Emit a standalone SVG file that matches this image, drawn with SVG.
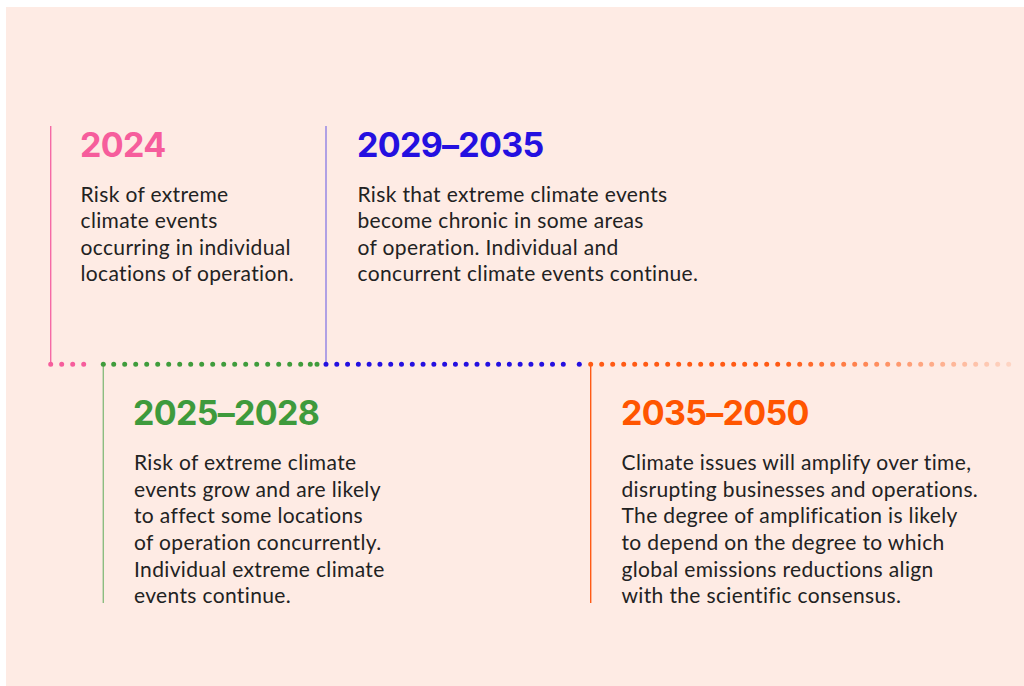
<svg xmlns="http://www.w3.org/2000/svg" width="1024" height="686" viewBox="0 0 1024 686">
  <style>
    .year { font-family: Inter, "Liberation Sans", sans-serif; font-weight: 700; font-size: 34px; letter-spacing: -0.7px; }
    .body { font-family: Lato, "Liberation Sans", sans-serif; font-weight: 400; font-size: 21px; letter-spacing: 0.35px; fill: #222222; }
    .stem { stroke-width: 1.4; fill: none; }
    .dots { stroke-width: 5; stroke-linecap: round; fill: none; }
  </style>
  <defs>
    <linearGradient id="fadeOut" gradientUnits="userSpaceOnUse" x1="780" y1="0" x2="1030" y2="0">
      <stop offset="0" stop-color="#ff5a14" stop-opacity="1"/>
      <stop offset="1" stop-color="#ff5a14" stop-opacity="0.08"/>
    </linearGradient>
  </defs>

  <!-- page background -->
  <rect x="6" y="7" width="1018" height="679" fill="#feebe4"/>

  <!-- dotted timeline and stems -->
  <g id="connectors">
    <line class="stem" x1="50.7" y1="126" x2="50.7" y2="364" stroke="#f56aa5"/>
    <line class="stem" x1="326" y1="126" x2="326" y2="364" stroke="#8f80e4"/>
    <line class="stem" x1="103.3" y1="364" x2="103.3" y2="603" stroke="#8cbd80"/>
    <line class="stem" x1="590.7" y1="364" x2="590.7" y2="603" stroke="#ff5a14"/>

    <line class="dots" x1="50.7" y1="364.3" x2="94.7" y2="364.3" stroke="#f65d9c" stroke-dasharray="0 11"/>

    <g stroke="#409c3c">
      <line class="dots" x1="103.3" y1="364.3" x2="103.3" y2="364.3" stroke-dasharray="0 11"/>
      <line class="dots" x1="113.7" y1="364.3" x2="300.7" y2="364.3" stroke-dasharray="0 11"/>
      <line class="dots" x1="310.3" y1="364.3" x2="317" y2="364.3" stroke-dasharray="0 6.7"/>
    </g>

    <g stroke="#2410e0">
      <line class="dots" x1="326" y1="364.3" x2="563.3" y2="364.3" stroke-dasharray="0 10.786"/>
      <line class="dots" x1="579.3" y1="364.3" x2="579.3" y2="364.3" stroke-dasharray="0 11"/>
    </g>

    <line class="dots" x1="590.7" y1="364.3" x2="1019.7" y2="364.3" stroke="url(#fadeOut)" stroke-dasharray="0 11"/>
  </g>

  <!-- 2024 -->
  <g id="node-2024">
    <text class="year" x="80" y="157" fill="#f65d9c">2024</text>
    <text class="body">
      <tspan x="80.5" y="201.5">Risk of extreme</tspan>
      <tspan x="80.5" y="228">climate events</tspan>
      <tspan x="80.5" y="254.7">occurring in individual</tspan>
      <tspan x="80.5" y="281.3">locations of operation.</tspan>
    </text>
  </g>

  <!-- 2029–2035 -->
  <g id="node-2029-2035">
    <text class="year" x="357" y="157" fill="#2410e0">2029–2035</text>
    <text class="body">
      <tspan x="357.5" y="201.5">Risk that extreme climate events</tspan>
      <tspan x="357.5" y="228">become chronic in some areas</tspan>
      <tspan x="357.5" y="254.7">of operation. Individual and</tspan>
      <tspan x="357.5" y="281.3">concurrent climate events continue.</tspan>
    </text>
  </g>

  <!-- 2025–2028 -->
  <g id="node-2025-2028">
    <text class="year" x="133" y="425" fill="#3e9a3c">2025–2028</text>
    <text class="body">
      <tspan x="134" y="470">Risk of extreme climate</tspan>
      <tspan x="134" y="496.7">events grow and are likely</tspan>
      <tspan x="134" y="523.3">to affect some locations</tspan>
      <tspan x="134" y="550">of operation concurrently.</tspan>
      <tspan x="134" y="576.7">Individual extreme climate</tspan>
      <tspan x="134" y="603.3">events continue.</tspan>
    </text>
  </g>

  <!-- 2035–2050 -->
  <g id="node-2035-2050">
    <text class="year" x="621" y="425" fill="#ff5500">2035–2050</text>
    <text class="body">
      <tspan x="621.5" y="470">Climate issues will amplify over time,</tspan>
      <tspan x="621.5" y="496.7">disrupting businesses and operations.</tspan>
      <tspan x="621.5" y="523.3">The degree of amplification is likely</tspan>
      <tspan x="621.5" y="550">to depend on the degree to which</tspan>
      <tspan x="621.5" y="576.7">global emissions reductions align</tspan>
      <tspan x="621.5" y="603.3">with the scientific consensus.</tspan>
    </text>
  </g>
</svg>
